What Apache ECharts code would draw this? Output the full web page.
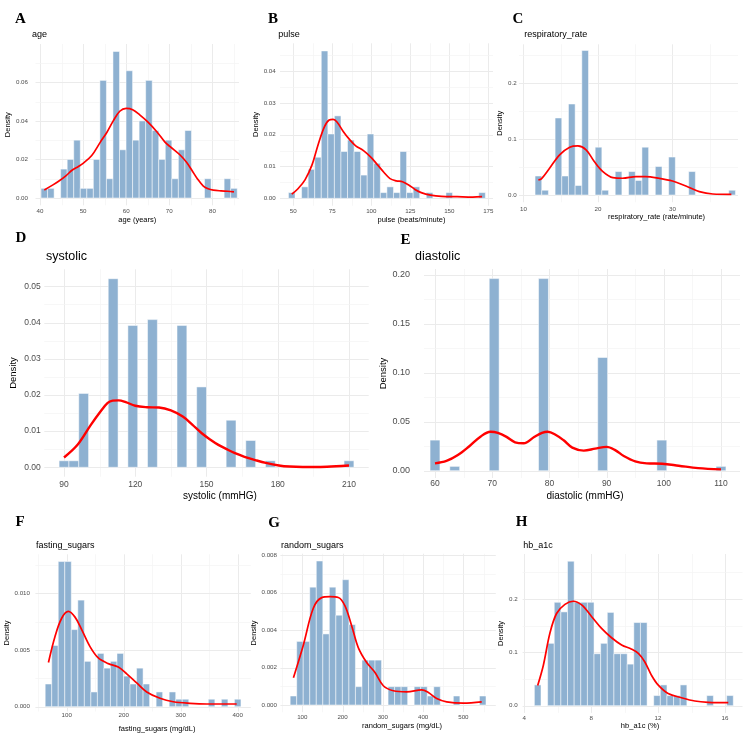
<!DOCTYPE html>
<html>
<head>
<meta charset="utf-8">
<script src="https://cdn.jsdelivr.net/npm/echarts@6/dist/echarts.min.js"></script>
<style>
html, body { margin: 0; padding: 0; background: #fff; }
#chart { width: 750px; height: 748px; }
</style>
</head>
<body>
<div id="chart"></div>
<script>
// histogram heights (density) per bin, first bin centre, bin width; red density curve points

var ageStart = 41, ageBin = 1.5172;
var ageDensity = [0.005, 0.005, 0, 0.015, 0.020, 0.030, 0.005, 0.005, 0.020, 0.061, 0.010, 0.076, 0.025, 0.066, 0.030,
  0.040, 0.061, 0.035, 0.020, 0.030, 0.010, 0.025, 0.035, 0, 0, 0.010, 0, 0, 0.010, 0.005];
var ageCurveX = [41, 43, 44.4, 46, 47.5, 49, 50, 52, 54, 55.5, 57, 58.5, 60, 61.5, 63.2, 65, 67.1, 69, 70.2, 72.5, 74, 75.2, 76.5, 77.9, 79, 80.2, 82, 83.5, 85];
var ageCurveY = [0.0042, 0.0068, 0.0088, 0.0115, 0.0145, 0.0165, 0.018, 0.022, 0.029, 0.034, 0.040, 0.045, 0.0465, 0.0458, 0.043,
  0.0395, 0.0344, 0.029, 0.0266, 0.0223, 0.0185, 0.0145, 0.010, 0.0062, 0.0048, 0.0041, 0.0037, 0.0035, 0.0032];
var ageTicksX = [40, 50, 60, 70, 80];
var ageTicksY = [0, 0.02, 0.04, 0.06];

var pulseStart = 49, pulseBin = 4.2069;
var pulseDensity = [0.0018, 0, 0.0036, 0.0091, 0.0129, 0.0463, 0.0202, 0.0259, 0.0147, 0.0183, 0.0147, 0.0073, 0.0202, 0.011, 0.0018,
  0.0036, 0.0018, 0.0147, 0.0018, 0.0036, 0, 0.0018, 0, 0, 0.0018, 0, 0, 0, 0, 0.0018];
var pulseCurveX = [49, 53, 57.5, 62, 66, 70, 73, 75.5, 78, 82, 86, 90, 95, 100, 104, 108, 112, 116, 120, 124, 128, 132, 138, 145, 155, 165, 171];
var pulseCurveY = [0.0013, 0.003, 0.0058, 0.0105, 0.017, 0.0225, 0.0246, 0.0248, 0.024, 0.021, 0.0185, 0.0165, 0.015, 0.0128, 0.0105,
  0.0082, 0.0062, 0.0055, 0.0052, 0.0042, 0.0028, 0.0018, 0.001, 0.0006, 0.0005, 0.0004, 0.0005];
var pulseTicksX = [50, 75, 100, 125, 150, 175];
var pulseTicksY = [0, 0.01, 0.02, 0.03, 0.04];

var respStart = 12, respBin = 0.8966;
var respDensity = [0.034, 0.0085, 0, 0.138, 0.034, 0.163, 0.017, 0.259, 0, 0.0856, 0.0085, 0, 0.042, 0, 0.042,
  0.026, 0.0856, 0, 0.051, 0, 0.068, 0, 0, 0.042, 0, 0, 0, 0, 0, 0.0085];
var respCurveX = [12, 12.4, 13.5, 14.85, 16.2, 17.3, 18.4, 19.5, 20.65, 22, 23.3, 25.1, 26.4, 28.2, 30, 31.8, 33.6, 35.4, 37.9];
var respCurveY = [0.027, 0.029, 0.048, 0.072, 0.0856, 0.088, 0.081, 0.06, 0.042, 0.031, 0.030, 0.033, 0.033, 0.030, 0.025, 0.016, 0.006, 0.0018, 0.0012];
var respTicksX = [10, 20, 30];
var respTicksY = [0, 0.1, 0.2];

var sysStart = 90, sysBin = 4.1379;
var sysDensity = [0.0018, 0.0018, 0.0204, 0, 0, 0.0521, 0, 0.0392, 0, 0.0408, 0, 0, 0.0392, 0, 0.0222,
  0, 0, 0.013, 0, 0.0074, 0, 0.0018, 0, 0, 0, 0, 0, 0, 0, 0.0018];
var sysCurveX = [90, 95.7, 101.3, 105.6, 108.4, 110.5, 113, 116, 120, 125, 130, 135, 140, 144, 148, 151.5, 155, 158.5, 162, 166, 170.5, 175, 180.5, 185, 190.5, 197, 204.6, 210];
var sysCurveY = [0.0027, 0.0062, 0.0117, 0.0156, 0.0178, 0.0184, 0.0185, 0.018, 0.017, 0.0166, 0.0165, 0.0157, 0.014, 0.0118,
  0.0094, 0.0077, 0.0062, 0.005, 0.0039, 0.0029, 0.002, 0.0012, 0.0005, 0.0002, 0.0001, 0.0001, 0.0003, 0.0005];
var sysTicksX = [90, 120, 150, 180, 210];
var sysTicksY = [0, 0.01, 0.02, 0.03, 0.04, 0.05];

var diaStart = 60, diaBin = 1.7241;
var diaDensity = [0.0312, 0, 0.0044, 0, 0, 0, 0.196, 0, 0, 0, 0, 0.196, 0, 0, 0,
  0, 0, 0.1155, 0, 0, 0, 0, 0, 0.0312, 0, 0, 0, 0, 0, 0.0044];
var diaCurveX = [60, 62, 64, 66, 68, 69.7, 71, 72.5, 74, 75.5, 77.4, 78.7, 79.7, 81, 82.5, 84, 86, 88, 90, 91.5, 93, 95, 97, 99.7, 102.6, 106, 110];
var diaCurveY = [0.0075, 0.010, 0.016, 0.025, 0.035, 0.0397, 0.0385, 0.0345, 0.029, 0.028, 0.0346, 0.0385, 0.0397, 0.037, 0.031,
  0.0235, 0.0205, 0.0225, 0.0243, 0.021, 0.015, 0.0095, 0.0075, 0.0071, 0.0051, 0.0026, 0.0014];
var diaTicksX = [60, 70, 80, 90, 100, 110];
var diaTicksY = [0, 0.05, 0.10, 0.15, 0.20];

var fastStart = 68, fastBin = 11.448;
var fastDensity = [0.002, 0.0054, 0.0128, 0.0128, 0.0068, 0.0094, 0.004, 0.0013, 0.0047, 0.0034, 0.004, 0.0047, 0.0027, 0.002, 0.0034,
  0.002, 0, 0.0013, 0, 0.0013, 0.00066, 0.00066, 0, 0, 0, 0.00066, 0, 0.00066, 0, 0.00066];
var fastCurveX = [68, 79.5, 91.2, 102.8, 114.6, 126.3, 140.9, 155.4, 173, 190.5, 205.3, 222.8, 240.4, 263.7, 287, 316.3, 345.6, 374.9, 398.2];
var fastCurveY = [0.0039, 0.0062, 0.0078, 0.0084, 0.0079, 0.0068, 0.0053, 0.0043, 0.0038, 0.0035, 0.0029, 0.0021, 0.0013,
  0.00074, 0.00044, 0.0003, 0.00024, 0.00024, 0.00024];
var fastTicksX = [100, 200, 300, 400];
var fastTicksY = [0, 0.005, 0.010];

var randStart = 78, randBin = 16.207;
var randDensity = [0.00048, 0.0034, 0.0034, 0.0063, 0.0077, 0.0038, 0.0063, 0.0048, 0.0067, 0.0043, 0.00098, 0.0024, 0.0024, 0.0024, 0,
  0.00098, 0.00098, 0.00098, 0, 0.00098, 0.00098, 0.00048, 0.00098, 0, 0, 0.00048, 0, 0, 0, 0.00048];
var randCurveX = [78, 102.5, 127.3, 148.2, 168.8, 189.4, 206, 222.7, 239, 259.9, 280.5, 301.2, 326, 359.3, 396.5, 413, 433.7, 458.6, 499.8, 545.5];
var randCurveY = [0.00146, 0.0032, 0.00517, 0.00574, 0.00579, 0.00575, 0.0053, 0.00423, 0.00307, 0.00227, 0.00174, 0.00103,
  0.00076, 0.0007, 0.00081, 0.00067, 0.00035, 0.00017, 0.0001, 0.00017];
var randTicksX = [100, 200, 300, 400, 500];
var randTicksY = [0, 0.002, 0.004, 0.006, 0.008];

var hbStart = 4.8, hbBin = 0.39655;
var hbDensity = [0.039, 0, 0.117, 0.194, 0.176, 0.271, 0.194, 0.194, 0.194, 0.0975, 0.117, 0.175, 0.0975, 0.0975, 0.078,
  0.156, 0.156, 0, 0.019, 0.039, 0.019, 0.019, 0.039, 0, 0, 0, 0.019, 0, 0, 0.019];
var hbCurveX = [4.8, 5.14, 5.53, 5.93, 6.43, 6.93, 7.43, 8.03, 8.62, 9.22, 9.82, 10.42, 10.82, 11.2, 11.6, 12.0, 12.6, 13.4, 14.2, 15.0, 16.2];
var hbCurveY = [0.038, 0.076, 0.136, 0.173, 0.19, 0.196, 0.189, 0.167, 0.145, 0.1275, 0.114, 0.106, 0.098, 0.0825, 0.0575,
  0.039, 0.023, 0.015, 0.0088, 0.0063, 0.0056];
var hbTicksX = [4, 8, 12, 16];
var hbTicksY = [0, 0.1, 0.2];

// panel layout (pixels) and axis ranges
var panels = [
  { letter: 'A', lx: 20.5, ly: 18.9, title: 'age', tx: 32, ty: 34.5, big: false,
    box: [35.5, 44, 203.5, 161.3], xr: [38.956, 86.172], yr: [-0.003786, 0.07988], digits: 2,
    xName: 'age (years)', xGap: 11, xShift: 0, yGap: 18.75, xMargin: 2.7, yMargin: 7.5,
    start: ageStart, bin: ageBin, dens: ageDensity, cx: ageCurveX, cy: ageCurveY, ticksX: ageTicksX, ticksY: ageTicksY },
  { letter: 'B', lx: 273, ly: 18.9, title: 'pulse', tx: 278.3, ty: 34.5, big: false,
    box: [280, 43.3, 213, 162.4], xr: [41.474, 178.01], yr: [-0.00232, 0.0487], digits: 2,
    xName: 'pulse (beats/minute)', xGap: 10.5, xShift: 25, yGap: 18, xMargin: 3, yMargin: 4.3,
    start: pulseStart, bin: pulseBin, dens: pulseDensity, cx: pulseCurveX, cy: pulseCurveY, ticksX: pulseTicksX, ticksY: pulseTicksY },
  { letter: 'C', lx: 518, ly: 18.9, title: 'respiratory_rate', tx: 524.3, ty: 34.5, big: false,
    box: [519, 44.3, 219, 157.95], xr: [9.396, 38.792], yr: [-0.013, 0.27], digits: 1,
    xName: 'respiratory_rate (rate/minute)', xGap: 10.6, xShift: 28, yGap: 6.5, xMargin: 4, yMargin: 2.3,
    start: respStart, bin: respBin, dens: respDensity, cx: respCurveX, cy: respCurveY, ticksX: respTicksX, ticksY: respTicksY },
  { letter: 'D', lx: 21, ly: 238.2, title: 'systolic', tx: 46, ty: 256.6, big: true,
    box: [44.3, 269.3, 324.4, 207.4], xr: [81.7, 218.3], yr: [-0.0026, 0.0547], digits: 2,
    xName: 'systolic (mmHG)', xGap: 14.3, xShift: 13.5, yGap: 25.5, xMargin: 3.3, yMargin: 3.6,
    start: sysStart, bin: sysBin, dens: sysDensity, cx: sysCurveX, cy: sysCurveY, ticksX: sysTicksX, ticksY: sysTicksY },
  { letter: 'E', lx: 405.5, ly: 239.9, title: 'diastolic', tx: 415, ty: 256.3, big: true,
    box: [424, 269, 316, 209], xr: [58.077, 113.32], yr: [-0.00745, 0.2058], digits: 2,
    xName: 'diastolic (mmHG)', xGap: 13, xShift: 3, yGap: 36, xMargin: 1.5, yMargin: 14,
    start: diaStart, bin: diaBin, dens: diaDensity, cx: diaCurveX, cy: diaCurveY, ticksX: diaTicksX, ticksY: diaTicksY },
  { letter: 'F', lx: 20, ly: 522.6, title: 'fasting_sugars', tx: 36, ty: 545.2, big: false,
    box: [35.4, 554.3, 215.4, 157.2], xr: [45.09, 422.98], yr: [-0.000423, 0.01344], digits: 3,
    xName: 'fasting_sugars (mg/dL)', xGap: 13, xShift: 14, yGap: 18.6, xMargin: 0.5, yMargin: 5.4,
    start: fastStart, bin: fastBin, dens: fastDensity, cx: fastCurveX, cy: fastCurveY, ticksX: fastTicksX, ticksY: fastTicksY },
  { letter: 'G', lx: 274, ly: 523.2, title: 'random_sugars', tx: 281, ty: 545.2, big: false,
    box: [280.4, 553.7, 215.4, 158.5], xr: [45.62, 580.5], yr: [-0.000385, 0.00809], digits: 3,
    xName: 'random_sugars (mg/dL)', xGap: 9.7, xShift: 14, yGap: 19.6, xMargin: 2, yMargin: 3.4,
    start: randStart, bin: randBin, dens: randDensity, cx: randCurveX, cy: randCurveY, ticksX: randTicksX, ticksY: randTicksY },
  { letter: 'H', lx: 521.7, ly: 522.6, title: 'hb_a1c', tx: 523.3, ty: 545.2, big: false,
    box: [522.6, 554, 219.9, 158.9], xr: [3.898, 17.05], yr: [-0.0135, 0.2846], digits: 1,
    xName: 'hb_a1c (%)', xGap: 9, xShift: 7.5, yGap: 10, xMargin: 2.4, yMargin: 4.9,
    start: hbStart, bin: hbBin, dens: hbDensity, cx: hbCurveX, cy: hbCurveY, ticksX: hbTicksX, ticksY: hbTicksY }
];

var BAR_FILL = '#8eb1d1';
var GRID_MAJOR = '#ebebeb';
var GRID_MINOR = '#f3f3f3';

function histData(start, bin, dens) {
  var out = [];
  for (var i = 0; i < dens.length; i++) {
    if (dens[i] > 0) out.push([start + (i - 0.5) * bin, start + (i + 0.5) * bin, dens[i]]);
  }
  return out;
}

function pairs(xs, ys) {
  return xs.map(function (x, i) { return [x, ys[i]]; });
}

// gridline values: majors = ticks, minors = half steps inside the range
function gridData(ticks, lo, hi, dir) {
  var out = [];
  var step = ticks[1] - ticks[0];
  ticks.forEach(function (t) { out.push([t, dir, 1]); });
  for (var v = ticks[0] - step / 2; v <= hi; v += step) {
    if (v >= lo) out.push([+v.toFixed(7), dir, 0]);
  }
  return out;
}

function renderBar(params, api) {
  var a = api.coord([api.value(0), api.value(2)]);
  var b = api.coord([api.value(1), 0]);
  return {
    type: 'rect',
    shape: { x: a[0], y: a[1], width: b[0] - a[0], height: b[1] - a[1] },
    style: { fill: BAR_FILL, stroke: '#ffffff', lineWidth: 0.5 }
  };
}

function renderGrid(params, api) {
  var cs = params.coordSys;
  var v = api.value(0), dir = api.value(1), major = api.value(2);
  var st = { stroke: major ? GRID_MAJOR : GRID_MINOR, lineWidth: major ? 1 : 0.7 };
  if (dir === 0) {
    var x = Math.round(api.coord([v, 0])[0]) + 0.5;
    return { type: 'line', shape: { x1: x, y1: cs.y, x2: x, y2: cs.y + cs.height }, style: st };
  }
  var y = Math.round(api.coord([cs.x, v])[1]) + 0.5;
  return { type: 'line', shape: { x1: cs.x, y1: y, x2: cs.x + cs.width, y2: y }, style: st };
}

var grids = [], xAxes = [], yAxes = [], series = [], graphics = [];

panels.forEach(function (p, i) {
  var tick = p.big ? 8.5 : 6.2;
  var axisTitle = p.big ? 10 : 7.5;
  var titleSize = p.big ? 12.5 : 9;

  grids.push({ left: p.box[0], top: p.box[1], width: p.box[2], height: p.box[3], outerBoundsMode: 'none' });

  xAxes.push({
    type: 'value', gridIndex: i, min: p.xr[0], max: p.xr[1],
    axisLine: { show: false }, axisTick: { show: false }, splitLine: { show: false },
    axisLabel: {
      customValues: p.ticksX, fontSize: tick, color: '#4d4d4d', margin: p.xMargin,
      formatter: function (v) { return String(v); }
    },
    name: p.xName, nameLocation: 'middle', nameGap: p.xGap,
    nameTextStyle: { fontSize: axisTitle, color: '#000', padding: [0, 0, 0, 2 * p.xShift] }
  });

  yAxes.push({
    type: 'value', gridIndex: i, min: p.yr[0], max: p.yr[1],
    axisLine: { show: false }, axisTick: { show: false }, splitLine: { show: false },
    axisLabel: {
      customValues: p.ticksY, fontSize: p.letter === 'E' ? 9 : tick, color: '#4d4d4d', margin: p.yMargin,
      formatter: (function (d) { return function (v) { return v.toFixed(d); }; })(p.digits)
    },
    name: 'Density', nameLocation: 'middle', nameRotate: 90, nameGap: p.yGap,
    nameTextStyle: { fontSize: p.big ? 9.5 : 7.5, color: '#000' }
  });

  series.push({
    type: 'custom', xAxisIndex: i, yAxisIndex: i, silent: true, z: 1,
    renderItem: renderGrid,
    data: gridData(p.ticksX, p.xr[0], p.xr[1], 0).concat(gridData(p.ticksY, p.yr[0], p.yr[1], 1))
  });

  series.push({
    type: 'custom', xAxisIndex: i, yAxisIndex: i, silent: true, z: 2,
    renderItem: renderBar, encode: { x: [0, 1], y: 2 },
    data: histData(p.start, p.bin, p.dens)
  });

  series.push({
    type: 'line', xAxisIndex: i, yAxisIndex: i, silent: true, z: 3,
    data: pairs(p.cx, p.cy), smooth: 0.35, showSymbol: false, symbol: 'none',
    lineStyle: { color: '#ff0000', width: p.big ? 2.4 : 1.7 }
  });

  graphics.push({
    type: 'text', x: p.lx, y: p.ly,
    style: { text: p.letter, font: 'bold 15px "Liberation Serif"', fill: '#000', textAlign: 'center', textVerticalAlign: 'middle' }
  });
  graphics.push({
    type: 'text', x: p.tx, y: p.ty,
    style: { text: p.title, font: titleSize + 'px "Liberation Sans"', fill: '#000', textAlign: 'left', textVerticalAlign: 'middle' }
  });
});

var chart = echarts.init(document.getElementById('chart'));
chart.setOption({
  animation: false,
  backgroundColor: '#ffffff',
  textStyle: { fontFamily: 'Liberation Sans' },
  grid: grids,
  xAxis: xAxes,
  yAxis: yAxes,
  series: series,
  graphic: graphics
});
</script>
</body>
</html>
